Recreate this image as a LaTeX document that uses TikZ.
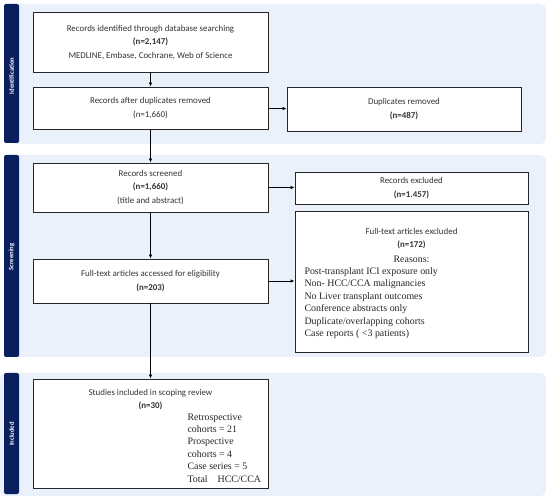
\documentclass[tikz,border=0pt]{standalone}
\usepackage{fontspec}
\setmainfont{Carlito}
\newfontfamily\serifrm{Liberation Serif}
\usetikzlibrary{arrows.meta}
\definecolor{panelblue}{HTML}{EAF1FB}
\definecolor{navy}{HTML}{0A1F5E}
\tikzset{
  panel/.style={fill=panelblue, draw=none, rounded corners=6pt},
  sidebar/.style={fill=navy, draw=none, rounded corners=2pt},
  sidelabel/.style={text=white, font=\fontsize{6.6}{7}\selectfont\bfseries, rotate=90},
  box/.style={draw=black!85, line width=0.9pt, fill=white, inner sep=0pt},
  btxt/.style={font=\fontsize{8.9}{13.5}\selectfont, align=center, text=black!80},
  rtxt/.style={font=\serifrm\fontsize{9.9}{12.4}\selectfont, align=left, anchor=north west, text=black!85},
  arr/.style={-{Latex[length=4pt,width=3.5pt]}, line width=0.8pt, black}
}
\begin{document}
\begin{tikzpicture}[x=1pt,y=-1pt]
\useasboundingbox (0,0) rectangle (550,500);
% panels
\fill[panel] (10,4) rectangle (546,144);
\fill[panel] (10,155) rectangle (546,357);
\fill[panel] (0,373) rectangle (546,496);
\fill[sidebar] (4,4) rectangle (19,143);
\fill[sidebar] (4,155) rectangle (19,357);
\fill[sidebar] (4,373) rectangle (19,494);
\node[sidelabel] (lid) at (11.5,76) {Identification};
\node[sidelabel] (lsc) at (11.5,257) {Screening};
\node[sidelabel] (lin) at (11.5,434) {Included};
% boxes
\node[box, minimum width=235pt, minimum height=60pt, btxt] (b1) at (150.5,42)
  {Records identified through database searching\\ \textbf{(n=2,147)}\\ MEDLINE, Embase, Cochrane, Web of Science};
\node[box, minimum width=235pt, minimum height=42pt, btxt] (b2) at (150.5,108)
  {Records after duplicates removed\\ (n=1,660)};
\node[box, minimum width=234pt, minimum height=44pt, btxt] (dup) at (404,109)
  {Duplicates removed\\ \textbf{(n=487)}};
\node[box, minimum width=235pt, minimum height=49pt, btxt] (scr) at (150.5,187.5)
  {Records screened\\ \textbf{(n=1,660)}\\ (title and abstract)};
\node[box, minimum width=235pt, minimum height=44pt, btxt] (fta) at (150.5,281)
  {Full-text articles accessed for eligibility\\ \textbf{(n=203)}};
\node[box, minimum width=233pt, minimum height=32pt, btxt] (rex) at (411.5,188)
  {Records excluded\\ \textbf{(n=1.457)}};
\node[box, minimum width=233pt, minimum height=141pt] (ftx) at (411.5,281.5) {};
\node[btxt, anchor=north] (ftxt) at (411.5,224.5)
  {Full-text articles excluded\\ \textbf{(n=172)}};
\node[rtxt, anchor=north] (ftxr) at (411.5,252) {Reasons:};
\node[rtxt] (ftxl) at (301,264)
  {Post-transplant ICI exposure only\\ Non- HCC/CCA malignancies\\ No Liver transplant outcomes\\ Conference abstracts only\\ Duplicate/overlapping cohorts\\ Case reports ( \textless 3 patients)};
\node[box, minimum width=235pt, minimum height=109pt] (inc) at (150.5,433.5) {};
\node[btxt, anchor=north] (inct) at (150.5,385.5)
  {Studies included in scoping review\\ \textbf{(n=30)}};
\node[rtxt] (incl) at (184,410)
  {Retrospective\\ cohorts = 21\\ Prospective\\ cohorts = 4\\ Case series = 5\\ Total\quad HCC/CCA};
% arrows
\draw[arr] (b1) -- (b2);
\draw[arr] (b2) -- (dup);
\draw[arr] (b2) -- (scr);
\draw[arr] (scr) -- (fta);
\draw[arr] (scr.east) -- (rex.west |- scr.east);
\draw[arr] (fta.east) -- (ftx.west |- fta.east);
\draw[arr] (fta) -- (inc);
\end{tikzpicture}
\end{document}
